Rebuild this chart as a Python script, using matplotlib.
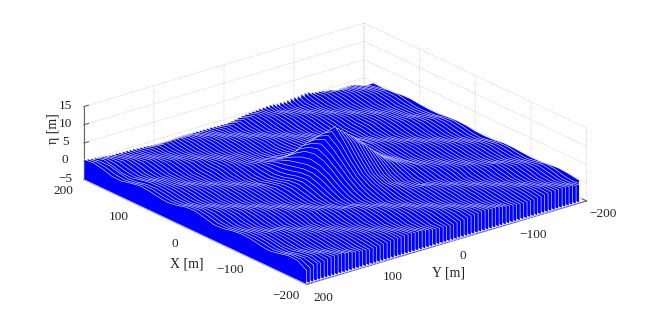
import numpy as np
import matplotlib
matplotlib.use('Agg')
import matplotlib.pyplot as plt
from mpl_toolkits.mplot3d.art3d import Poly3DCollection

plt.rcParams['font.family'] = ['Liberation Serif', 'DejaVu Serif']

# positions of the samples along each line, Y of each line
x_m = np.array([200, 183.3, 166.7, 150, 133.3, 116.7, 100, 83.3, 66.7, 50, 33.3, 16.7, 0,
                -16.7, -33.3, -50, -66.7, -83.3, -100, -116.7, -133.3, -150, -166.7, -183.3, -200])
y_m = np.arange(-200, 205, 5)

x_ticks = [-200, -100, 0, 100, 200]
y_ticks = [-200, -100, 0, 100, 200]
z_ticks = [-5, 0, 5, 10, 15]

# eta, in tenths of a metre, one row per Y line
eta_dm = [
[-23,-2,-3,-1,2,3,0,-2,-2,1,3,2,-2,-3,-2,2,2,0,-2,-1,2,4,2,-2,-3],
[-18,-6,-1,5,6,0,-5,-5,-3,3,6,2,-4,-6,-1,4,4,-1,-3,2,7,4,-3,-6,-2],
[-13,-5,1,5,5,-1,-5,-4,-1,5,6,1,-5,-5,1,5,3,-2,-2,3,8,3,-5,-6,0],
[-10,-4,2,6,3,-3,-4,-4,1,6,5,-1,-6,-4,2,5,1,-3,-1,4,7,1,-5,-5,1],
[-8,-3,4,6,2,-4,-4,-4,2,7,4,-3,-7,-3,4,5,0,-4,1,6,6,-1,-6,-3,3],
[-8,-1,5,6,0,-5,-4,-3,3,6,2,-4,-6,-1,4,4,-1,-4,2,7,4,-3,-6,-2,4],
[-9,1,5,5,-1,-5,-3,-1,5,6,1,-5,-5,1,5,3,-2,-3,3,8,3,-5,-6,0,5],
[-9,2,6,3,-3,-4,-1,1,6,5,-1,-6,-4,2,5,1,-3,-3,4,7,1,-5,-5,1,5],
[-12,4,6,2,-4,-4,1,2,7,4,-3,-7,-3,4,5,0,-4,-2,6,6,-1,-6,-3,3,4],
[-9,5,6,0,-5,-4,2,3,6,2,-4,-6,-1,4,4,-1,-4,-1,7,4,-3,-6,-2,4,4],
[-4,5,5,-1,-5,-3,3,5,6,1,-5,-5,1,5,3,-2,-3,1,8,3,-5,-6,0,5,3],
[-3,6,3,-3,-4,-1,5,6,5,-1,-6,-4,2,5,1,-3,-3,2,7,1,-5,-5,1,5,2],
[-1,6,2,-4,-4,1,6,7,4,-3,-7,-3,4,5,0,-4,-2,3,6,-1,-6,-3,3,4,1],
[1,6,0,-5,-4,2,7,6,2,-4,-6,-1,4,4,-1,-4,-1,4,4,-3,-6,-2,4,4,-1],
[2,5,-1,-5,-3,3,6,6,1,-5,-5,1,5,3,-2,-3,1,6,3,-5,-6,0,5,3,-2],
[4,3,-3,-4,-1,5,6,5,-1,-6,-4,2,5,1,-3,-3,2,7,1,-5,-5,1,5,2,-3],
[8,2,-4,-4,1,6,5,4,-3,-7,-3,4,5,0,-4,-2,3,8,-1,-6,-3,3,4,1,-4],
[9,0,-5,-4,2,7,4,2,-4,-6,-1,4,4,-1,-4,-1,4,7,-3,-6,-2,4,4,-1,-4],
[8,-1,-5,-3,3,6,2,1,-5,-5,1,5,3,-2,-3,1,6,6,-5,-6,0,5,3,-2,-5],
[6,-3,-4,-1,5,6,1,-1,-6,-4,2,5,1,-3,-3,2,7,4,-5,-5,1,5,2,-3,-4],
[6,-4,-4,1,6,5,-1,-3,-7,-3,4,5,0,-4,-2,3,8,3,-6,-3,3,4,1,-4,-3],
[5,-5,-4,2,7,4,-3,-4,-6,-1,4,4,-1,-4,-1,4,7,1,-6,-2,4,4,-1,-4,-2],
[3,-5,-3,3,6,2,-4,-5,-5,1,5,3,-2,-3,1,6,6,-1,-6,0,5,3,-2,-5,-1],
[2,-4,-1,5,6,1,-5,-6,-4,2,5,1,-3,-3,2,7,4,-3,-5,1,5,2,-3,-4,1],
[3,-4,1,6,5,-1,-6,-7,-3,5,7,3,-1,1,5,9,3,-5,-3,3,4,1,-4,-3,3],
[2,-4,2,7,4,-3,-7,-6,-1,5,7,4,1,4,7,8,1,-5,-2,4,4,-1,-4,-2,5],
[4,-3,3,6,2,-4,-6,-5,2,7,7,5,5,8,10,8,0,-6,0,5,3,-2,-5,-1,6],
[5,-1,5,6,1,-5,-5,-4,3,8,7,7,9,12,13,7,-2,-6,1,5,2,-3,-4,1,6],
[4,1,6,5,-1,-6,-4,-3,5,9,9,10,14,17,17,7,-4,-6,3,4,1,-4,-3,3,7],
[3,2,7,4,-3,-7,-3,-1,6,10,11,15,21,23,19,7,-3,-5,4,4,-1,-4,-2,5,7],
[2,3,6,2,-4,-6,-1,2,7,10,14,23,31,32,22,6,-4,-2,5,3,-2,-5,-1,6,7],
[1,5,6,1,-5,-5,1,3,8,11,18,30,41,40,25,7,-3,-1,5,2,-3,-4,1,6,5],
[0,6,5,-1,-6,-4,2,5,9,12,23,40,52,50,30,7,-2,1,4,1,-4,-3,3,7,4],
[-1,7,4,-3,-7,-3,4,5,9,14,29,51,65,59,34,10,0,2,4,-1,-4,-2,5,7,3],
[-2,6,2,-4,-6,-1,4,7,9,16,36,64,75,67,38,12,3,5,3,-2,-5,-1,6,7,1],
[-4,6,1,-5,-5,1,5,7,8,18,43,70,84,73,43,15,5,6,2,-3,-4,1,6,5,-1],
[-6,5,-1,-6,-4,2,5,7,8,20,50,78,92,80,47,18,8,7,1,-4,-3,3,7,4,-3],
[-8,4,-3,-7,-3,4,5,6,8,22,56,86,100,84,52,21,10,7,-1,-4,-2,5,7,3,-4],
[-10,2,-4,-6,-1,4,4,5,7,25,62,92,108,88,55,25,12,6,-2,-5,-1,6,7,1,-6],
[-11,1,-5,-5,1,5,3,3,7,27,66,96,116,92,58,28,14,6,-3,-4,1,6,5,-1,-6],
[-12,-1,-6,-4,2,5,1,3,6,28,68,97,125,94,59,30,15,6,-4,-3,3,7,4,-3,-6],
[-11,-3,-7,-3,4,5,0,1,6,29,68,96,114,91,59,31,15,4,-4,-2,5,7,3,-4,-5],
[-11,-4,-6,-1,4,4,-1,0,6,29,67,92,106,87,58,31,13,3,-5,-1,6,7,1,-6,-5],
[-10,-5,-5,1,5,3,-2,-1,6,28,64,86,98,80,55,30,13,1,-4,1,6,5,-1,-6,-4],
[-9,-6,-4,2,5,1,-3,-2,6,27,60,78,88,73,52,29,11,0,-3,3,7,4,-3,-6,-2],
[-9,-7,-3,4,5,0,-4,-2,6,25,53,70,78,66,47,26,9,-1,-2,5,7,3,-4,-5,-1],
[-9,-6,-1,4,4,-1,-4,-1,7,24,45,62,67,60,43,22,7,-2,-1,6,7,1,-6,-5,1],
[-9,-5,1,5,3,-2,-3,-2,7,22,37,49,55,50,37,19,4,-3,1,6,5,-1,-6,-4,2],
[-9,-4,2,5,1,-3,-3,-1,7,20,30,37,43,42,32,15,2,-4,3,7,4,-3,-6,-2,3],
[-9,-3,4,5,0,-4,-2,0,7,17,22,28,34,34,26,12,0,-3,5,7,3,-4,-5,-1,3],
[-9,-1,4,4,-1,-4,-1,2,8,13,15,20,27,29,20,8,-2,-2,6,7,1,-6,-5,1,4],
[-9,1,5,3,-2,-3,1,2,9,10,9,13,20,23,16,5,-2,-2,6,5,-1,-6,-4,2,4],
[-9,2,5,1,-3,-3,2,3,9,7,4,8,16,19,12,2,-4,-1,7,4,-3,-6,-2,3,3],
[-10,4,5,0,-4,-2,3,4,8,4,1,5,13,15,8,0,-3,1,7,3,-4,-5,-1,3,2],
[-10,4,4,-1,-4,-1,4,6,7,1,-2,4,11,11,5,-2,-2,3,7,1,-6,-5,1,4,2],
[-11,5,3,-2,-3,1,6,7,4,-2,-3,3,9,9,2,-3,-2,5,5,-1,-6,-4,2,4,1],
[-12,5,1,-3,-3,2,7,8,3,-4,-4,3,8,6,0,-4,-1,6,4,-3,-6,-2,3,3,0],
[-12,5,0,-4,-2,3,8,7,1,-5,-5,1,5,2,-3,-4,1,6,3,-4,-5,-1,3,2,-1],
[-12,4,-1,-4,-1,4,7,6,-1,-6,-3,3,4,1,-4,-3,3,7,1,-6,-5,1,4,2,-3],
[-12,3,-2,-3,1,6,6,4,-3,-6,-2,4,4,-1,-4,-2,5,7,-1,-6,-4,2,4,1,-4],
[-11,1,-3,-3,2,7,4,3,-5,-6,0,5,3,-2,-5,-1,6,7,-3,-6,-2,3,3,0,-5],
[-10,0,-4,-2,3,8,3,1,-5,-5,1,5,2,-3,-4,1,6,5,-4,-5,-1,3,2,-1,-5],
[-9,-1,-4,-1,4,7,1,-1,-6,-3,3,4,1,-4,-3,3,7,4,-6,-5,1,4,2,-3,-6],
[-8,-2,-3,1,6,6,-1,-3,-6,-2,4,4,-1,-4,-2,5,7,3,-6,-4,2,4,1,-4,-5],
[-7,-3,-3,2,7,4,-3,-5,-6,0,5,3,-2,-5,-1,6,7,1,-6,-2,3,3,0,-5,-4],
[-6,-4,-2,3,8,3,-5,-5,-5,1,5,2,-3,-4,1,6,5,-1,-5,-1,3,2,-1,-5,-2],
[-5,-4,-1,4,7,1,-5,-6,-3,3,4,1,-4,-3,3,7,4,-3,-5,1,4,2,-3,-6,-1],
[-5,-3,1,6,6,-1,-6,-6,-2,4,4,-1,-4,-2,5,7,3,-4,-4,2,4,1,-4,-5,1],
[-4,-3,2,7,4,-3,-6,-6,0,5,3,-2,-5,-1,6,7,1,-6,-2,3,3,0,-5,-4,2],
[-4,-2,3,8,3,-5,-6,-5,1,5,2,-3,-4,1,6,5,-1,-6,-1,3,2,-1,-5,-2,4],
[-4,-1,4,7,1,-5,-5,-3,3,4,1,-4,-3,3,7,4,-3,-6,1,4,2,-3,-6,-1,5],
[-3,1,6,6,-1,-6,-3,-2,4,4,-1,-4,-2,5,7,3,-4,-5,2,4,1,-4,-5,1,5],
[-4,2,7,4,-3,-6,-2,0,5,3,-2,-5,-1,6,7,1,-6,-5,3,3,0,-5,-4,2,5],
[-3,3,8,3,-5,-6,0,1,5,2,-3,-4,1,6,5,-1,-6,-4,3,2,-1,-5,-2,4,4],
[-2,4,7,1,-5,-5,1,3,4,1,-4,-3,3,7,4,-3,-6,-2,4,2,-3,-6,-1,5,2],
[-1,6,6,-1,-6,-3,3,4,4,-1,-4,-2,5,7,3,-4,-5,-1,4,1,-4,-5,1,5,0],
[0,7,4,-3,-6,-2,4,5,3,-2,-5,-1,6,7,1,-6,-5,1,3,0,-5,-4,2,5,-3],
[1,8,3,-5,-6,0,5,5,2,-3,-4,1,6,5,-1,-6,-4,2,4,1,-4,-5,1,5,0],
[2,6,6,-1,-6,-3,3,4,1,-4,-3,3,7,4,-3,-6,-2,3,3,0,-5,-4,2,5,-3],
[4,7,4,-3,-6,-2,4,4,-1,-4,-2,5,7,3,-4,-5,-1,3,2,-1,-5,-2,4,4,-8],
[5,8,3,-5,-6,0,5,3,-2,-5,-1,6,7,1,-6,-5,1,4,2,-3,-6,-1,5,4,-12],
]

z_floor = -5
eta = np.array(eta_dm) / 10.0

fig = plt.figure(figsize=(6.49, 3.19), dpi=100)
L = 500.0
ax = fig.add_axes([(328.5 - L / 2) / 649, (319 - 160.5 - L / 2) / 319, L / 649, L / 319],
                  projection='3d', proj_type='ortho')
ax.view_init(elev=22, azim=141.5)
ax.set_box_aspect((1, 1, 0.22), zoom=0.994)
ax.patch.set_alpha(0)
for empty_title in (ax.title, ax._left_title, ax._right_title):
    empty_title.set_visible(False)

# one filled curtain per Y line, waterfall style
verts = []
for i, y in enumerate(y_m):
    top = [(x, y, z) for x, z in zip(x_m, eta[i])]
    verts.append([(x_m[0], y, z_floor)] + top + [(x_m[-1], y, z_floor)])
ax.add_collection3d(Poly3DCollection(verts, facecolors=(0, 0, 1), edgecolors='white', linewidths=0.4))

ax.set_xlim(-200, 200)
ax.set_ylim(-200, 200)
ax.set_zlim(-5, 15)
ax.set_xticks(x_ticks)
ax.set_yticks(y_ticks)
ax.set_zticks(z_ticks)
ax.zaxis.set_ticks_position('upper')

for axis in (ax.xaxis, ax.yaxis, ax.zaxis):
    axis.set_pane_color((1, 1, 1, 0))
    axis.pane.set_edgecolor((1, 1, 1, 0))
    axis.line.set_color('#666666')
    axis.line.set_linewidth(0.8)
    axis._axinfo['grid'].update(color='#c4c4c4', linestyle=':', linewidth=0.6)
    axis._axinfo['tick'].update(inward_factor=0, outward_factor=0.25, color='#666666')
    axis.set_tick_params(labelsize=9.5, color='#666666', labelcolor='#222222', pad=6)
    axis.label.set_visible(False)
    axis.get_offset_text().set_visible(False)
    for tick in axis.get_major_ticks():
        tick.label1.set_va('center')

# z ticks are shorter and their labels sit close to the axis
ax.zaxis._axinfo['tick'].update(outward_factor=0.2)
ax.zaxis.set_tick_params(pad=-1)

ax.text(-70, 268, -5, 'X [m]', fontsize=10, ha='center', va='center', color='#222222')
ax.text(-273, 55, -5, 'Y [m]', fontsize=10, ha='center', va='center', color='#222222')
ax.text(221.5, 227, 9, 'η [m]', zdir='z', fontsize=10, ha='center', va='center', color='#222222')

fig.savefig('out.png', dpi=100)
